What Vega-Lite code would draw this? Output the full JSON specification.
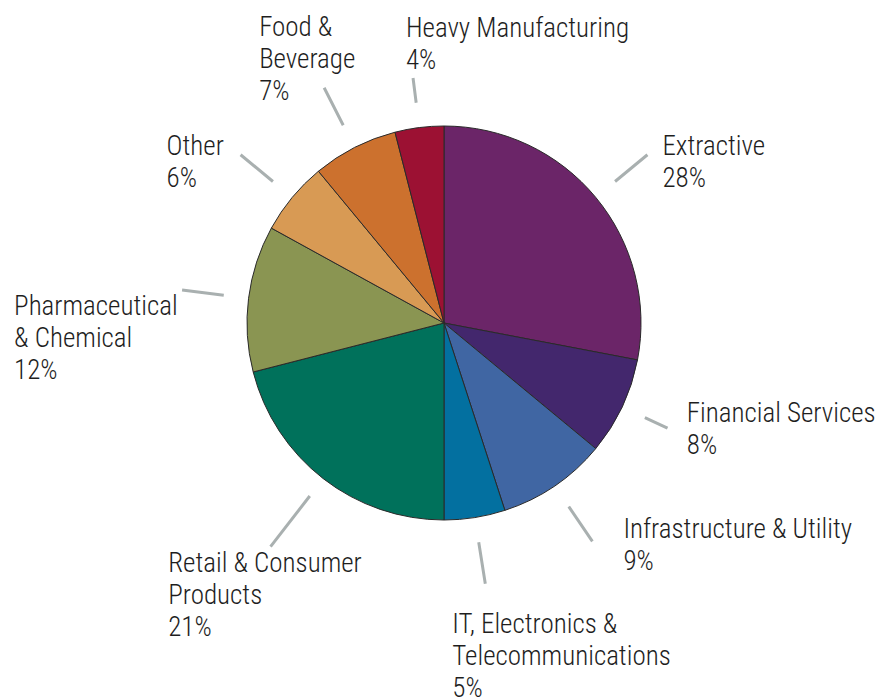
{
  "$schema": "https://vega.github.io/schema/vega-lite/v6.json",
  "width": 862,
  "height": 646,
  "autosize": "none",
  "padding": {"left": 13, "top": 0, "right": 0, "bottom": 51},
  "background": "white",
  "view": {"stroke": null},
  "config": {
    "text": {"font": "Roboto Condensed, Roboto", "fontSize": 27, "fontWeight": 300, "lineHeight": 32, "color": "#1e1e1e", "lineBreak": "\n", "align": "left", "baseline": "middle"}
  },
  "data": {
    "values": [
      {"category": "Extractive", "value": 28, "label": "Extractive\n28%"},
      {"category": "Financial Services", "value": 8, "label": "Financial Services\n8%"},
      {"category": "Infrastructure & Utility", "value": 9, "label": "Infrastructure & Utility\n9%"},
      {"category": "IT, Electronics & Telecommunications", "value": 5, "label": "IT, Electronics &\nTelecommunications\n5%"},
      {"category": "Retail & Consumer Products", "value": 21, "label": "Retail & Consumer\nProducts\n21%"},
      {"category": "Pharmaceutical & Chemical", "value": 12, "label": "Pharmaceutical\n& Chemical\n12%"},
      {"category": "Other", "value": 6, "label": "Other\n6%"},
      {"category": "Food & Beverage", "value": 7, "label": "Food &\nBeverage\n7%"},
      {"category": "Heavy Manufacturing", "value": 4, "label": "Heavy Manufacturing\n4%"}
    ]
  },
  "transform": [
    {"stack": "value", "groupby": [], "as": ["s0", "s1"]},
    {"fold": ["s0", "s1"], "as": ["k", "s"]},
    {"aggregate": [
      {"op": "min", "field": "s", "as": "a0"},
      {"op": "max", "field": "s", "as": "a1"},
      {"op": "mean", "field": "s", "as": "mid"}
    ], "groupby": ["category", "label"]}
  ],
  "layer": [
    {
      "mark": {"type": "arc", "outerRadius": 197, "stroke": "#2a2a2a", "strokeWidth": 1},
      "encoding": {
        "theta": {"field": "a0", "type": "quantitative", "scale": {"domain": [0, 100]}},
        "theta2": {"field": "a1"},
        "color": {
          "field": "category", "type": "nominal", "legend": null,
          "scale": {
            "domain": ["Extractive", "Financial Services", "Infrastructure & Utility", "IT, Electronics & Telecommunications", "Retail & Consumer Products", "Pharmaceutical & Chemical", "Other", "Food & Beverage", "Heavy Manufacturing"],
            "range": ["#6B2568", "#43276D", "#4066A3", "#0370A0", "#00715B", "#8A9552", "#D89A54", "#CC712E", "#9C1133"]
          }
        }
      }
    },
    {
      "transform": [{"filter": {"field": "category", "oneOf": ["Extractive", "Infrastructure & Utility", "IT, Electronics & Telecommunications", "Pharmaceutical & Chemical", "Other", "Food & Beverage"]}}],
      "mark": {"type": "arc", "fill": null, "stroke": "#A9B0B0", "strokeWidth": 3},
      "encoding": {
        "theta": {"field": "mid", "type": "quantitative", "scale": {"domain": [0, 100]}},
        "theta2": {"field": "mid"},
        "radius": {"value": 264},
        "radius2": {"value": 222}
      }
    },
    {
      "transform": [{"filter": {"field": "category", "oneOf": ["Financial Services", "Heavy Manufacturing"]}}],
      "mark": {"type": "arc", "fill": null, "stroke": "#A9B0B0", "strokeWidth": 3},
      "encoding": {
        "theta": {"field": "mid", "type": "quantitative", "scale": {"domain": [0, 100]}},
        "theta2": {"field": "mid"},
        "radius": {"value": 247},
        "radius2": {"value": 222}
      }
    },
    {
      "transform": [{"filter": {"field": "category", "oneOf": ["Retail & Consumer Products"]}}],
      "mark": {"type": "arc", "fill": null, "stroke": "#A9B0B0", "strokeWidth": 3},
      "encoding": {
        "theta": {"field": "mid", "type": "quantitative", "scale": {"domain": [0, 100]}},
        "theta2": {"field": "mid"},
        "radius": {"value": 283},
        "radius2": {"value": 219}
      }
    },
    {
      "transform": [{"filter": {"field": "category", "oneOf": ["Extractive"]}}],
      "mark": {"type": "text", "dx": 15, "dy": -8},
      "encoding": {"theta": {"field": "mid", "type": "quantitative", "scale": {"domain": [0, 100]}}, "radius": {"value": 264}, "text": {"field": "label"}}
    },
    {
      "transform": [{"filter": {"field": "category", "oneOf": ["Financial Services"]}}],
      "mark": {"type": "text", "dx": 4, "dy": -21},
      "encoding": {"theta": {"field": "mid", "type": "quantitative", "scale": {"domain": [0, 100]}}, "radius": {"value": 264}, "text": {"field": "label"}}
    },
    {
      "transform": [{"filter": {"field": "category", "oneOf": ["Infrastructure & Utility"]}}],
      "mark": {"type": "text", "dx": 31, "dy": -11},
      "encoding": {"theta": {"field": "mid", "type": "quantitative", "scale": {"domain": [0, 100]}}, "radius": {"value": 264}, "text": {"field": "label"}}
    },
    {
      "transform": [{"filter": {"field": "category", "oneOf": ["IT, Electronics & Telecommunications"]}}],
      "mark": {"type": "text", "dx": -33, "dy": 41},
      "encoding": {"theta": {"field": "mid", "type": "quantitative", "scale": {"domain": [0, 100]}}, "radius": {"value": 264}, "text": {"field": "label"}}
    },
    {
      "transform": [{"filter": {"field": "category", "oneOf": ["Retail & Consumer Products"]}}],
      "mark": {"type": "text", "dx": -114, "dy": 32},
      "encoding": {"theta": {"field": "mid", "type": "quantitative", "scale": {"domain": [0, 100]}}, "radius": {"value": 264}, "text": {"field": "label"}}
    },
    {
      "transform": [{"filter": {"field": "category", "oneOf": ["Pharmaceutical & Chemical"]}}],
      "mark": {"type": "text", "dx": -168, "dy": 17},
      "encoding": {"theta": {"field": "mid", "type": "quantitative", "scale": {"domain": [0, 100]}}, "radius": {"value": 264}, "text": {"field": "label"}}
    },
    {
      "transform": [{"filter": {"field": "category", "oneOf": ["Other"]}}],
      "mark": {"type": "text", "dx": -74, "dy": -8},
      "encoding": {"theta": {"field": "mid", "type": "quantitative", "scale": {"domain": [0, 100]}}, "radius": {"value": 264}, "text": {"field": "label"}}
    },
    {
      "transform": [{"filter": {"field": "category", "oneOf": ["Food & Beverage"]}}],
      "mark": {"type": "text", "dx": -65, "dy": -60},
      "encoding": {"theta": {"field": "mid", "type": "quantitative", "scale": {"domain": [0, 100]}}, "radius": {"value": 264}, "text": {"field": "label"}}
    },
    {
      "transform": [{"filter": {"field": "category", "oneOf": ["Heavy Manufacturing"]}}],
      "mark": {"type": "text", "dx": -5, "dy": -32},
      "encoding": {"theta": {"field": "mid", "type": "quantitative", "scale": {"domain": [0, 100]}}, "radius": {"value": 264}, "text": {"field": "label"}}
    }
  ]
}
